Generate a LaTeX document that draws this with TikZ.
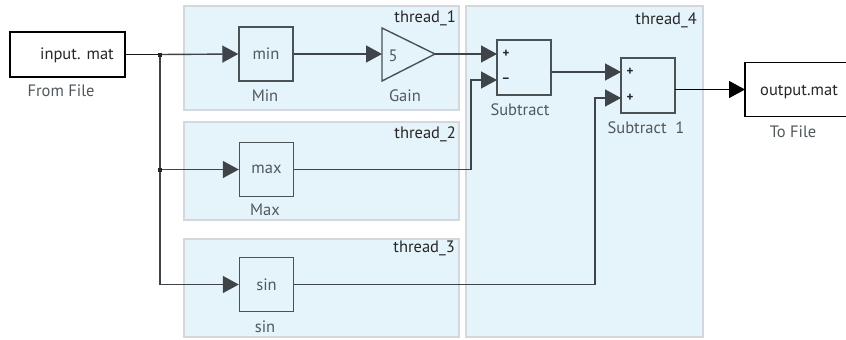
\documentclass[tikz,border=0pt]{standalone}
\usepackage{fontspec}
\setmainfont{PT Sans}
\usetikzlibrary{arrows.meta}
\definecolor{regionfill}{HTML}{E5F4FA}
\definecolor{regionborder}{HTML}{D2D8DB}
\definecolor{blockc}{HTML}{4A5254}
\definecolor{linec}{HTML}{3E4447}
\definecolor{textc}{HTML}{50585C}
\tikzset{
  region/.style={draw=regionborder, fill=regionfill, line width=1.2pt},
  blk/.style={draw=blockc, line width=1.4pt, minimum width=54pt, minimum height=54pt,
    text=textc, font=\fontsize{16.5}{16.5}\selectfont, inner sep=0pt},
  filebox/.style={fill=white, inner sep=0pt},
  fileline/.style={draw=black, line width=1.3pt},
  conn/.style={draw=linec, line width=1.4pt},
  arr/.style={conn, -{Triangle[length=16pt,width=17pt]}},
  lbl/.style={text=textc, font=\fontsize{16.5}{16.5}\selectfont, inner sep=0pt},
  thr/.style={text=black!85, font=\fontsize{16.5}{16.5}\selectfont, inner sep=0pt, anchor=east},
  sgn/.style={text=black!85, font=\fontsize{13}{13}\selectfont\bfseries, inner sep=0pt},
  jdot/.style={fill=black!85, minimum size=4pt, inner sep=0pt},
}
\begin{document}
\begin{tikzpicture}[x=1pt,y=-1pt]
\useasboundingbox (0,0) rectangle (846,340);
% regions
\draw[region] (184,6) rectangle (459,110);
\draw[region] (184,122) rectangle (459,220);
\draw[region] (184,239) rectangle (459,337);
\draw[region] (466,6) rectangle (703,337);
\node[thr] (t1) at (456,18) {thread\_1};
\node[thr] (t2) at (456,134) {thread\_2};
\node[thr] (t3) at (455,248) {thread\_3};
\node[thr] (t4) at (697,20) {thread\_4};
% file blocks
\node[filebox, fileline, minimum width=115pt, minimum height=45pt] (in) at (67.5,54.5) {};
\node[text=black!85, font=\fontsize{16.5}{16.5}\selectfont, anchor=east, inner sep=0pt] (intext) at (114,55) {input. mat};
\node[lbl] (inlbl) at (61,91) {From File};
\node[filebox, minimum width=105pt, minimum height=53pt, anchor=west] (out) at (745,89.5) {};
\draw[fileline] (out.north east) -- (out.north west) -- (out.south west) -- (out.south east);
\node[text=black!85, font=\fontsize{16.5}{16.5}\selectfont, anchor=west, inner sep=0pt] (outtext) at (760,92) {output.mat};
\node[lbl] (outlbl) at (793,132) {To File};
% blocks
\node[blk] (min) at (266,54) {min};
\node[lbl] (minlbl) at (265,96) {Min};
\draw[draw=blockc, line width=1.4pt] (382,28) -- (435,54) -- (382,81) -- cycle;
\coordinate (gainin) at (382,54);
\coordinate (gainout) at (435,54);
\node[lbl] (five) at (393,56) {5};
\node[lbl] (gainlbl) at (405,96) {Gain};
\node[blk, minimum height=55pt] (sub) at (524,67.5) {};
\node[sgn] (s1) at (506,54) {+};
\node[sgn] (s2) at (506,80) {--};
\node[lbl] (sublbl) at (520,110) {Subtract};
\node[blk, minimum height=55pt] (sub1) at (648,85.5) {};
\node[sgn] (s3) at (630,72) {+};
\node[sgn] (s4) at (630,98) {+};
\node[lbl] (sub1lbl) at (646,128) {Subtract\ \ 1};
\node[blk] (max) at (266.5,169.5) {max};
\node[lbl] (maxlbl) at (265,210) {Max};
\node[blk] (sin) at (266.5,284.5) {sin};
\node[lbl] (sinlbl) at (265,327) {sin};
% ports
\coordinate (subp) at (497,54);
\coordinate (subm) at (497,80);
\coordinate (subout) at (551,72);
\coordinate (sub1p) at (621,72);
\coordinate (sub1m) at (621,98);
\coordinate (sub1out) at (675,89.5);
\coordinate (b1) at (471,169.5);
\coordinate (b2) at (595,284.5);
\coordinate (j1) at (160,54.5);
\coordinate (j2) at (160,169.5);
% connectors
\draw[conn, draw=black!90] (in.east) -- (j1);
\draw[arr] (j1) -- (min.west);
\draw[conn] (j1) -- (j2);
\draw[arr] (j2) -- (max.west);
\draw[arr] (j2) |- (sin.west);
\draw[arr] (min.east) -- (gainin);
\draw[arr] (gainout) -- (subp);
\draw[arr] (max.east) -- (b1) |- (subm);
\draw[arr] (subout) -- (sub1p);
\draw[arr] (sin.east) -- (b2) |- (sub1m);
\draw[conn, draw=black, -{Triangle[length=16pt,width=17pt]}] (sub1out) -- (out.west);
\node[jdot] (d1) at (j1) {};
\node[jdot] (d2) at (j2) {};
\end{tikzpicture}
\end{document}
